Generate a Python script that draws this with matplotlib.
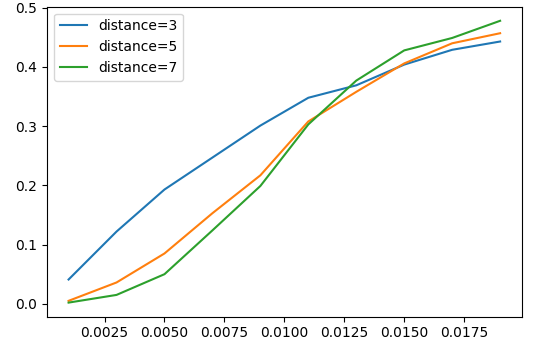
import matplotlib
matplotlib.use("Agg")
import matplotlib.pyplot as plt

# error rate on x, one curve per code distance
p = [0.001, 0.003, 0.005, 0.007, 0.009, 0.011, 0.013, 0.015, 0.017, 0.019]
d3 = [0.041, 0.122, 0.193, 0.247, 0.301, 0.348, 0.369, 0.404, 0.429, 0.443]
d5 = [0.005, 0.036, 0.085, 0.153, 0.217, 0.308, 0.358, 0.406, 0.440, 0.457]
d7 = [0.002, 0.015, 0.050, 0.124, 0.199, 0.303, 0.377, 0.428, 0.449, 0.478]

fig = plt.figure(figsize=(5.4, 3.52), dpi=100)
ax = fig.add_axes([47 / 540, 1 - 316.7 / 352, (521.7 - 47) / 540, (316.7 - 6.7) / 352])

ax.plot(p, d3, label="distance=3")
ax.plot(p, d5, label="distance=5")
ax.plot(p, d7, label="distance=7")
ax.legend(loc="upper left")

fig.savefig("out.png", dpi=100)
